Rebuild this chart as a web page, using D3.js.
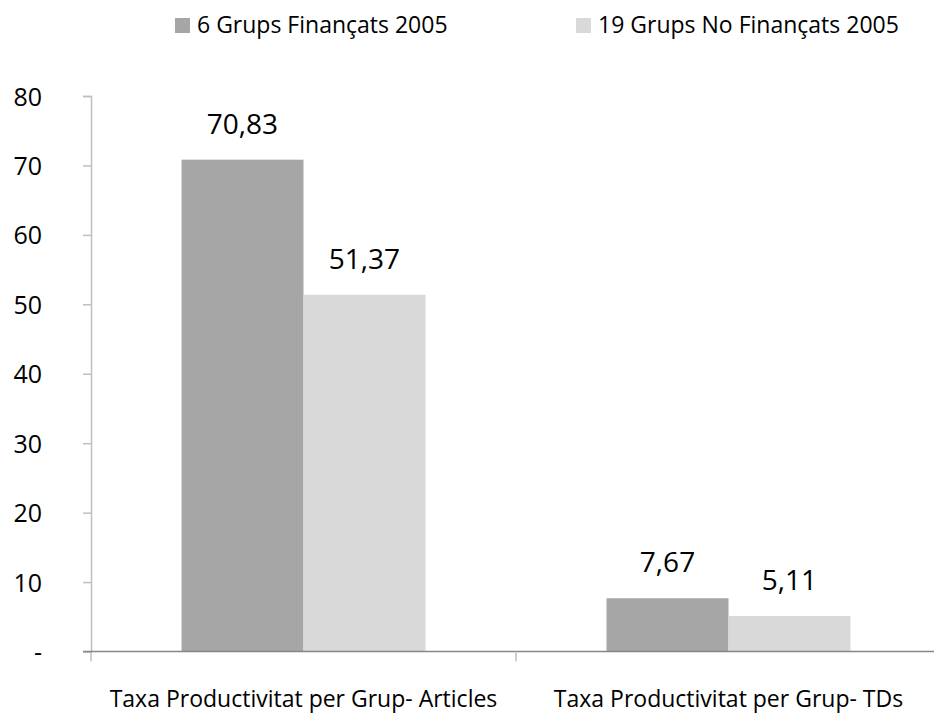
<!DOCTYPE html>
<html>
<head>
<meta charset="utf-8">
<script src="https://cdn.jsdelivr.net/npm/d3@7"></script>
<style>
body { margin: 0; background: #fff; }
svg { display: block; font-family: "Open Sans", sans-serif; }
</style>
</head>
<body>
<div class="svg-div"></div>
<script>
// data
var categories = ["Taxa Productivitat per Grup- Articles", "Taxa Productivitat per Grup- TDs"]
var seriesNames = ["6 Grups Finançats 2005", "19 Grups No Finançats 2005"]
var financats = [70.83, 7.67]
var noFinancats = [51.37, 5.11]
var yTicks = [0, 10, 20, 30, 40, 50, 60, 70, 80]

var colors = ["#a6a6a6", "#d9d9d9"]
var width = 934, height = 713

var data = categories.map(function(c, i) {
    return {cat: c, values: [financats[i], noFinancats[i]]}
})

var svg = d3.select(".svg-div").append("svg")
    .attr("width", width)
    .attr("height", height)

let xScale = d3.scaleBand()
    .domain(categories)
    .range([91, 941])
let xInner = d3.scaleBand()
    .domain(seriesNames)
    .range([0, xScale.bandwidth()])
    .paddingOuter(0.742)
let yScale = d3.scaleLinear()
    .domain([0, 80])
    .range([651.5, 96])

// y axis
let yAxis = d3.axisLeft(yScale)
    .tickValues(yTicks)
    .tickSize(8)
    .tickFormat(d => d === 0 ? "-" : d)
let gy = svg.append("g")
    .attr("transform", "translate(91,0)")
    .call(yAxis)
gy.select(".domain").attr("stroke", "#bfbfbf").attr("stroke-width", 1.5)
gy.selectAll(".tick line").attr("stroke", "#bfbfbf").attr("stroke-width", 1.5)
gy.selectAll(".tick text")
    .attr("x", -49)
    .attr("dy", "0.36em")
    .attr("fill", "#000")
    .style("font-size", "25px")
    .style("font-family", "Open Sans, sans-serif")

// extend y axis line down past baseline
svg.append("line")
    .attr("x1", 91).attr("x2", 91)
    .attr("y1", yScale(0)).attr("y2", yScale(0) + 10)
    .attr("stroke", "#bfbfbf").attr("stroke-width", 1.5)

// bars
let groups = svg.append("g").selectAll("g")
    .data(data)
    .join("g")
    .attr("transform", d => "translate(" + xScale(d.cat) + ",0)")
groups.selectAll("rect")
    .data(d => d.values.map((v, i) => ({name: seriesNames[i], value: v, i: i})))
    .join("rect")
    .attr("x", d => xInner(d.name))
    .attr("width", xInner.bandwidth())
    .attr("y", d => yScale(d.value))
    .attr("height", d => yScale(0) - yScale(d.value))
    .attr("fill", d => colors[d.i])

// value labels
groups.selectAll("text")
    .data(d => d.values.map((v, i) => ({name: seriesNames[i], value: v})))
    .join("text")
    .attr("x", d => xInner(d.name) + xInner.bandwidth() / 2)
    .attr("y", d => yScale(d.value) - 26)
    .attr("text-anchor", "middle")
    .style("font-size", "28px")
    .attr("fill", "#000")
    .text(d => d.value.toFixed(2).replace(".", ","))

// x axis
let xAxis = d3.axisBottom(xScale)
    .tickSize(0)
let gx = svg.append("g")
    .attr("transform", "translate(0," + yScale(0) + ")")
    .call(xAxis)
gx.select(".domain").remove()
gx.selectAll(".tick text")
    .attr("y", 55)
    .attr("dy", 0)
    .attr("fill", "#000")
    .style("font-size", "23px")
    .style("font-family", "Open Sans, sans-serif")
svg.append("line")
    .attr("x1", 83).attr("x2", width)
    .attr("y1", yScale(0)).attr("y2", yScale(0))
    .attr("stroke", "#868686").attr("stroke-width", 1.5)
// category separators
svg.append("g").selectAll("line")
    .data(categories.slice(1))
    .join("line")
    .attr("x1", d => xScale(d)).attr("x2", d => xScale(d))
    .attr("y1", yScale(0)).attr("y2", yScale(0) + 10)
    .attr("stroke", "#bfbfbf").attr("stroke-width", 1.5)

// legend
var legendX = [175, 576]
let legend = svg.append("g").selectAll("g")
    .data(seriesNames)
    .join("g")
    .attr("transform", (d, i) => "translate(" + legendX[i] + ",18)")
legend.append("rect")
    .attr("width", 15).attr("height", 15)
    .attr("fill", (d, i) => colors[i])
legend.append("text")
    .attr("x", 22)
    .attr("y", 15)
    .style("font-size", "23px")
    .attr("fill", "#000")
    .text(d => d)
</script>
</body>
</html>
